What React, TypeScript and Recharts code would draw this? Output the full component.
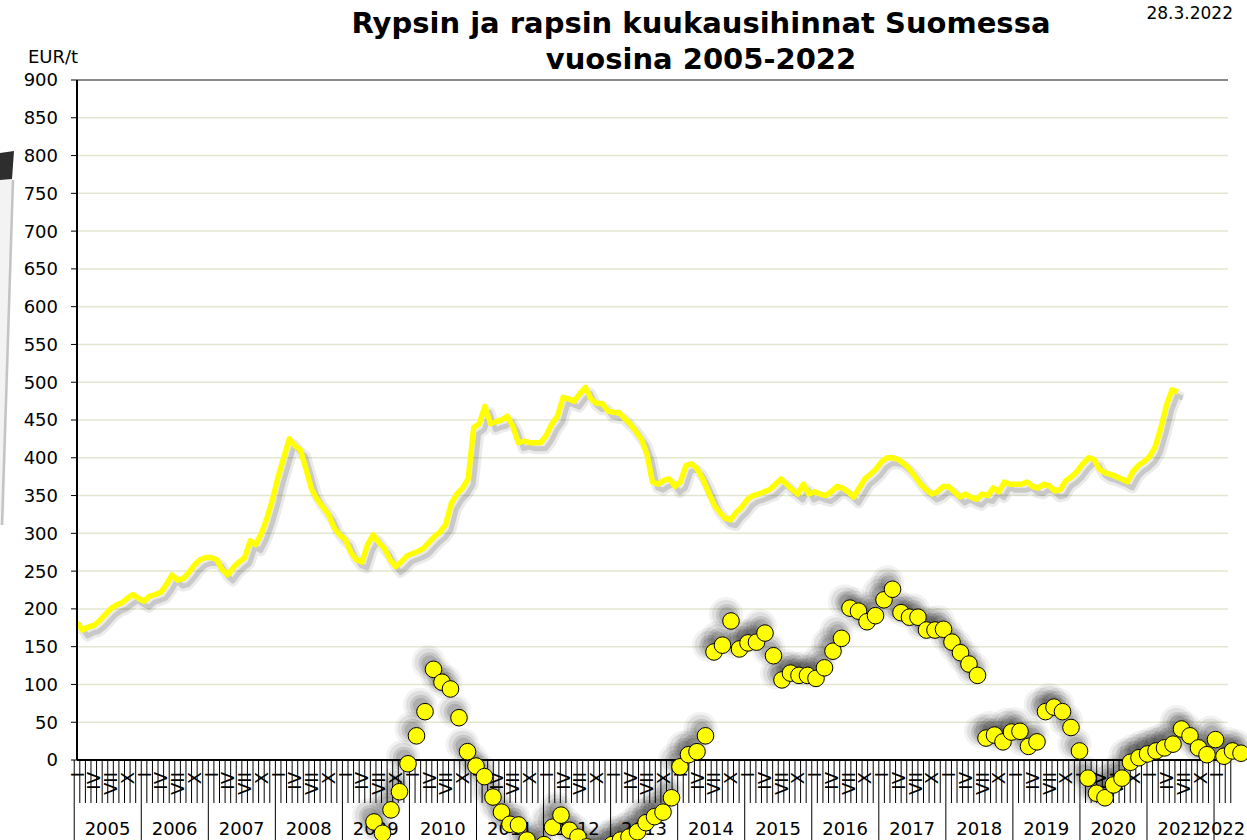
import React from "react";
import {
  ComposedChart,
  ScatterChart,
  Line,
  Scatter,
  XAxis,
  YAxis,
  CartesianGrid,
  ReferenceLine,
} from "recharts";

const W = 1247;
const H = 840;
const FONT = "'DejaVu Sans', Verdana, sans-serif";

// categories
const YEARS = [
  2005, 2006, 2007, 2008, 2009, 2010, 2011, 2012, 2013, 2014, 2015, 2016,
  2017, 2018, 2019, 2020, 2021, 2022,
];
const MONTHS_IN_LAST_YEAR = 3;
const ROMAN = ["I", "", "", "IV", "", "", "VII", "", "", "X", "", ""];
const Y_TICKS = [
  0, 50, 100, 150, 200, 250, 300, 350, 400, 450, 500, 550, 600, 650, 700,
  750, 800, 850, 900,
];

// monthly price line (EUR/t), from Jan 2005
const PRICE = [
  182, 172, 176, 178, 184, 192, 200, 205, 208, 214, 219, 214,
  210, 217, 219, 222, 232, 245, 238, 240, 248, 258, 265, 268,
  268, 265, 252, 245, 255, 262, 268, 290, 285, 300, 320, 345,
  375, 400, 425, 416, 410, 385, 358, 345, 335, 325, 308, 298,
  292, 275, 265, 262, 285, 298, 288, 280, 266, 256, 262, 270,
  273, 276, 280, 288, 296, 302, 312, 340, 352, 360, 372, 440,
  445, 468, 445, 448, 450, 455, 442, 420, 422, 420, 420, 420,
  430, 445, 455, 480, 478, 475, 485, 493, 478, 472, 472, 462,
  460, 460, 452, 445, 435, 425, 405, 368, 365, 370, 372, 362,
  368, 390, 392, 385, 372, 355, 338, 328, 320, 318, 328, 335,
  345, 350, 352, 355, 358, 365, 372, 365, 358, 352, 365, 352,
  355, 352, 350, 355, 362, 360, 355, 348, 360, 372, 378, 385,
  395, 400, 400, 398, 392, 385, 375, 365, 358, 352, 355, 362,
  362, 355, 348, 352, 348, 345, 352, 350, 360, 355, 368, 365,
  365, 365, 368, 362, 360, 365, 363, 356, 358, 370, 375, 382,
  392, 400, 398, 385, 380, 378, 375, 372, 368, 382, 390, 395,
  402, 415, 440, 470, 490, 487,
];

// second series, drawn as shadowed markers on its own scale
const DOTS = [
  -82, -97, -66, -42, -5, 32, 64, 120, 103, 94,
  56, 11, -8, -22, -49, -69, -85, -86, -106, -118,
  -112, -89, -73, -93, -102, -115, -125, -120, -112, -106,
  -102, -95, -83, -75, -69, -50, -9, 7, 11, 32,
  143, 152, 184, 147, 155, 156, 168, 138, 106, 115,
  112, 112, 108, 122, 144, 161, 201, 197, 183, 191,
  212, 226, 195, 189, 189, 172, 172, 173, 156, 142,
  127, 112, 29, 33, 24, 37, 38, 18, 24, 64,
  70, 64, 43, 12, -24, -44, -50, -33, -24, -3,
  3, 8, 12, 16, 21, 41, 32, 16, 7, 27,
  5, 12, 9,
];

const months = YEARS.flatMap((year, yi) =>
  Array.from(
    { length: yi === YEARS.length - 1 ? MONTHS_IN_LAST_YEAR : 12 },
    (_, m) => ({ key: `${year}-${m + 1}`, year, m })
  )
);
const lineData = months.map((mo, i) => ({
  key: mo.key,
  price: i < PRICE.length ? PRICE[i] : null,
}));
const dotData = DOTS.map((v, i) => ({ i, v }));

const PLOT_LEFT = 77;
const PLOT_RIGHT = 1228;
const BW = (PLOT_RIGHT - PLOT_LEFT) / months.length;

function MonthTick(props: any) {
  const { x, y, index } = props;
  const mo = months[index];
  if (!mo) return null;
  const left = x - BW / 2;
  const label = ROMAN[mo.m];
  const n = months.filter((o) => o.year === mo.year).length;
  return (
    <g>
      <line x1={left} x2={left} y1={y} y2={y + (mo.m === 0 ? 80 : 43)} stroke="#000" strokeWidth={1} />
      {index === months.length - 1 && (
        <line x1={x + BW / 2} x2={x + BW / 2} y1={y} y2={y + 43} stroke="#000" strokeWidth={1} />
      )}
      {label && (
        <text
          x={x}
          y={y + 12}
          transform={`rotate(-90 ${x} ${y + 12})`}
          textAnchor="end"
          dominantBaseline="central"
          fontSize={18}
          fill="#000"
        >
          {label}
        </text>
      )}
      {mo.m === 0 && (
        <text x={left + (n * BW) / 2} y={y + 75} textAnchor="middle" fontSize={18} fill="#000">
          {mo.year}
        </text>
      )}
    </g>
  );
}

function Marker(props: any) {
  const { cx, cy } = props;
  return <circle cx={cx} cy={cy} r={8.3} fill="#FFFF00" stroke="#000" strokeWidth={1} />;
}

// soft shadow cast up-left of each marker
function MarkerShadow(props: any) {
  const { cx, cy } = props;
  return (
    <g fill="#000">
      <circle cx={cx - 5} cy={cy - 7} r={17} fillOpacity={0.05} />
      <circle cx={cx - 5} cy={cy - 7} r={14} fillOpacity={0.08} />
      <circle cx={cx - 4} cy={cy - 6} r={11} fillOpacity={0.11} />
      <circle cx={cx - 4} cy={cy - 6} r={8} fillOpacity={0.12} />
    </g>
  );
}

export default function App() {
  return (
    <div
      style={{
        position: "fixed",
        left: 0,
        top: 0,
        width: W,
        height: H,
        overflow: "hidden",
        background: "#fff",
        fontFamily: FONT,
      }}
    >
      <style>{`
        .line-shadow { transform: translate(5px, 6px); }
      `}</style>

      {/* stray frame edge on the left */}
      <svg width={40} height={560} style={{ position: "absolute", left: 0, top: 0 }}>
        <polygon points="0,180 14,179 4,525 0,525" fill="#f3f3f3" />
        <line x1={13} y1={180} x2={2} y2={525} stroke="#c4c4c4" strokeWidth={2.5} />
        <polygon points="0,153 14,151 12,179 0,180" fill="#2e2e2e" />
      </svg>

      <div style={{ position: "absolute", left: 0, top: 0 }}>
        <ComposedChart
          width={W}
          height={H}
          data={lineData}
          margin={{ top: 80, right: W - PLOT_RIGHT, left: 0, bottom: 0 }}
        >
          <CartesianGrid yAxisId="v" xAxisId="m" vertical={false} stroke="#e2e8d0" strokeWidth={1.5} />
          <XAxis
            xAxisId="m"
            dataKey="key"
            interval={0}
            height={80}
            tickSize={0}
            tickMargin={0}
            tickLine={false}
            axisLine={{ stroke: "#000", strokeWidth: 2 }}
            tick={<MonthTick />}
          />
          <YAxis
            yAxisId="v"
            domain={[0, 900]}
            ticks={Y_TICKS}
            interval={0}
            width={PLOT_LEFT}
            tickSize={6}
            tickMargin={13}
            tick={{ fill: "#000", fontSize: 18 }}
            tickLine={{ stroke: "#000" }}
            axisLine={{ stroke: "#000", strokeWidth: 2 }}
          />
          <YAxis
            yAxisId="r"
            orientation="right"
            domain={[0, 900]}
            allowDataOverflow
            width={0}
            tick={false}
            tickLine={false}
            axisLine={{ stroke: "#8a8a8a", strokeWidth: 3 }}
          />
          <ReferenceLine yAxisId="v" xAxisId="m" y={900} stroke="#8a8a8a" strokeWidth={2} />
          <Line
            className="line-shadow"
            xAxisId="m"
            yAxisId="v"
            type="linear"
            dataKey="price"
            stroke="#000"
            strokeOpacity={0.08}
            strokeWidth={11}
            strokeLinejoin="round"
            dot={false}
            activeDot={false}
            isAnimationActive={false}
          />
          <Line
            className="line-shadow"
            xAxisId="m"
            yAxisId="v"
            type="linear"
            dataKey="price"
            stroke="#000"
            strokeOpacity={0.14}
            strokeWidth={5}
            strokeLinejoin="round"
            dot={false}
            activeDot={false}
            isAnimationActive={false}
          />
          <Line
            xAxisId="m"
            yAxisId="v"
            type="linear"
            dataKey="price"
            stroke="#FFFF00"
            strokeWidth={5.5}
            strokeLinejoin="round"
            dot={false}
            isAnimationActive={false}
          />
        </ComposedChart>
      </div>

      <div style={{ position: "absolute", left: 0, top: 0, pointerEvents: "none" }}>
        <ScatterChart
          width={W}
          height={880}
          margin={{ top: 80, right: 6, left: 374, bottom: 880 - 80 - (1050 * 680) / 900 }}
        >
          <XAxis type="number" dataKey="i" domain={[0, 102]} hide />
          <YAxis type="number" dataKey="v" domain={[-150, 900]} hide />
          <Scatter data={dotData} shape={<MarkerShadow />} isAnimationActive={false} />
          <Scatter data={dotData} shape={<Marker />} isAnimationActive={false} />
        </ScatterChart>
      </div>

      <svg width={W} height={80} style={{ position: "absolute", left: 0, top: 0 }}>
        <text x={701} y={33} textAnchor="middle" fontSize={29} fontWeight="bold" fill="#000">
          Rypsin ja rapsin kuukausihinnat Suomessa
        </text>
        <text x={701} y={69} textAnchor="middle" fontSize={29} fontWeight="bold" fill="#000">
          vuosina 2005-2022
        </text>
        <text x={1233} y={19} textAnchor="end" fontSize={17} fill="#000">
          28.3.2022
        </text>
        <text x={28} y={63} fontSize={18} fill="#000">
          EUR/t
        </text>
      </svg>
    </div>
  );
}
